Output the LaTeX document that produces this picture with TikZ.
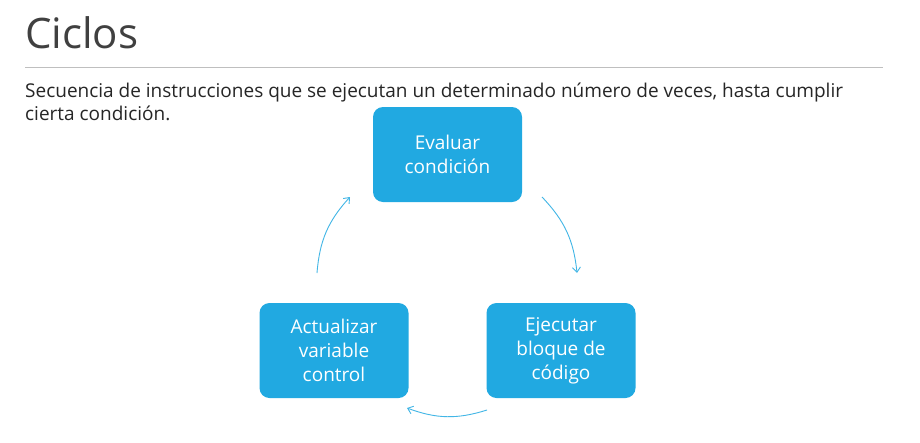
\documentclass[tikz,border=0pt]{standalone}
\usepackage{fontspec}
\setmainfont{Open Sans}
\usepackage{xcolor}
\usepackage{tikz}
\usetikzlibrary{arrows.meta, positioning, calc}
\definecolor{cycblue}{RGB}{33, 169, 225}
\definecolor{textgray}{RGB}{38, 38, 38}
\definecolor{titlegray}{RGB}{64, 64, 64}

\begin{document}
\begin{tikzpicture}[x=1pt, y=-1pt,
    stepbox/.style={draw=none, fill=cycblue, rounded corners=10pt, minimum width=149pt, minimum height=95pt,
        text=white, align=center, font=\fontsize{19pt}{24pt}\selectfont, inner sep=0pt},
    cyc/.style={draw=cycblue!85, line width=0.9pt, -{Straight Barb[length=5pt, width=8pt]}}]
    % Frame
    \useasboundingbox[fill=white] (0,0) rectangle (920,442);

    % Title
    \node[anchor=base west, inner sep=0pt, text=titlegray, font=\fontsize{42pt}{50pt}\selectfont] (title) at (25,48) {Ciclos};
    \draw[gray!50, line width=0.8pt] (25,67) -- (883,67);

    % Description (base = last line)
    \node[anchor=base west, inner sep=0pt, text=textgray, align=left, font=\fontsize{19pt}{23pt}\selectfont] (desc) at (25,120)
        {Secuencia de instrucciones que se ejecutan un determinado número de veces, hasta cumplir\\ cierta condición.};

    % The cycle
    \node[stepbox] (eval) at (447.5,154.5) {Evaluar\\ condición};
    \node[stepbox] (exec) at (561,350.5) {Ejecutar\\ bloque de\\ código};
    \node[stepbox] (upd) at (334,350.5) {Actualizar\\ variable\\ control};

    % Arrow ends
    \coordinate (a1) at (542,197);
    \coordinate (a2) at (577,273);
    \coordinate (b1) at (487,410);
    \coordinate (b2) at (407,408);
    \coordinate (c1) at (317,273);
    \coordinate (c2) at (350,197);

    \draw[cyc] (a1) to[bend left=19] (a2);
    \draw[cyc] (b1) to[bend left=19] (b2);
    \draw[cyc] (c1) to[bend left=19] (c2);
\end{tikzpicture}
\end{document}
